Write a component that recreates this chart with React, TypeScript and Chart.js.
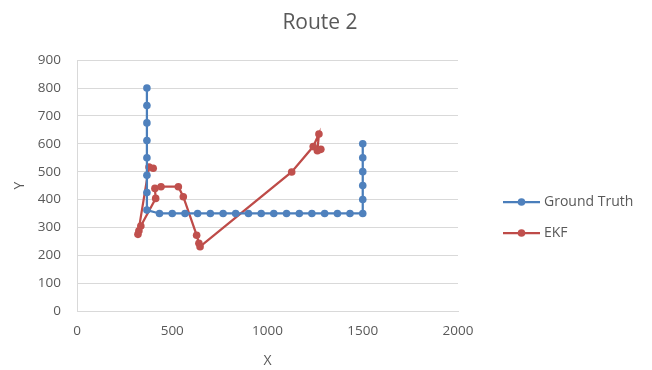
import React, { useEffect, useRef } from "react";
import { Chart, registerables } from "chart.js";

Chart.register(...registerables);

const chartTitle = "Route 2";
const xTitle = "X";
const yTitle = "Y";

const gtLabel = "Ground Truth";
const gtX = [
  367, 367, 367, 367, 367, 367, 367, 367,
  433, 500, 567, 633, 700, 767, 833, 900, 967, 1033, 1100, 1167, 1233, 1300, 1367, 1433, 1500,
  1500, 1500, 1500, 1500, 1500,
];
const gtY = [
  800, 737, 675, 612, 550, 487, 425, 362,
  350, 350, 350, 350, 350, 350, 350, 350, 350, 350, 350, 350, 350, 350, 350, 350, 350,
  400, 450, 500, 550, 600,
];

const ekfLabel = "EKF";
const ekfX = [400, 378, 320, 325, 335, 413, 409, 441, 532, 558, 628, 640, 646, 1127, 1240, 1270, 1262, 1280];
const ekfY = [512, 517, 275, 288, 305, 404, 440, 446, 446, 410, 272, 243, 231, 499, 590, 635, 575, 580];

const xMin = 0;
const xMax = 2000;
const xStep = 500;
const yMin = 0;
const yMax = 900;
const yStep = 100;

const BLUE = "#4A7EBB";
const RED = "#BE4B48";
const TEXT = "#595959";
const GRID = "#D9D9D9";
const FONT = "'Open Sans', 'Noto Sans', sans-serif";

const toPoints = (xs: number[], ys: number[]) => xs.map((x, i) => ({ x, y: ys[i] }));

const legendPlugin = {
  id: "excelLegend",
  afterDraw(chart: any) {
    const ctx = chart.ctx;
    const ds = chart.data.datasets;
    const x0 = 503;
    const x1 = 540;
    const ys = [202, 233];
    ctx.save();
    ds.forEach((d: any, i: number) => {
      const y = ys[i];
      ctx.strokeStyle = d.borderColor;
      ctx.lineWidth = 2.25;
      ctx.beginPath();
      ctx.moveTo(x0, y);
      ctx.lineTo(x1, y);
      ctx.stroke();
      ctx.fillStyle = d.pointBackgroundColor;
      ctx.beginPath();
      ctx.arc((x0 + x1) / 2, y, 3.8, 0, Math.PI * 2);
      ctx.fill();
      ctx.fillStyle = TEXT;
      ctx.font = `14px ${FONT}`;
      ctx.textBaseline = "middle";
      ctx.textAlign = "left";
      ctx.fillText(d.label, x1 + 4, y);
    });
    ctx.restore();
  },
};

export default function App() {
  const ref = useRef<HTMLCanvasElement | null>(null);

  useEffect(() => {
    document.body.style.margin = "0";
    const canvas = ref.current;
    if (!canvas) return;
    const chart = new Chart(canvas, {
      type: "scatter",
      data: {
        datasets: [
          {
            label: gtLabel,
            data: toPoints(gtX, gtY),
            showLine: true,
            borderColor: BLUE,
            backgroundColor: BLUE,
            pointBackgroundColor: "#4F81BD",
            pointBorderColor: "#4F81BD",
            borderWidth: 2.25,
            pointRadius: 3.8,
            pointBorderWidth: 0,
          },
          {
            label: ekfLabel,
            data: toPoints(ekfX, ekfY),
            showLine: true,
            borderColor: RED,
            backgroundColor: RED,
            pointBackgroundColor: "#C0504D",
            pointBorderColor: "#C0504D",
            borderWidth: 2.25,
            pointRadius: 3.8,
            pointBorderWidth: 0,
          },
        ],
      },
      options: {
        responsive: false,
        animation: false,
        devicePixelRatio: 1,
        layout: { padding: { left: 0, right: 12, top: 0, bottom: 0 } },
        plugins: {
          legend: { display: false },
          tooltip: { enabled: false },
          title: {
            display: true,
            text: chartTitle,
            color: TEXT,
            font: { family: FONT, size: 21, weight: "normal" },
            padding: { top: 10, bottom: 25 },
          },
        },
        scales: {
          x: {
            type: "linear",
            min: xMin,
            max: xMax,
            ticks: {
              stepSize: xStep,
              color: TEXT,
              font: { family: FONT, size: 13.5 },
              padding: 12,
              maxRotation: 0,
              callback: (v: any) => String(v),
            },
            grid: { display: false, drawTicks: false },
            border: { display: true, color: GRID, width: 1 },
            title: {
              display: true,
              text: xTitle,
              color: TEXT,
              font: { family: FONT, size: 14 },
              padding: { top: 0, bottom: 1 },
            },
            afterFit: (s: any) => {
              s.height = 59;
            },
          },
          y: {
            type: "linear",
            min: yMin,
            max: yMax,
            ticks: {
              stepSize: yStep,
              color: TEXT,
              font: { family: FONT, size: 13.5 },
              padding: 16,
              callback: (v: any) => String(v),
            },
            grid: { color: GRID, lineWidth: 1, drawTicks: false },
            border: { display: true, color: GRID, width: 1 },
            title: {
              display: true,
              text: yTitle,
              color: TEXT,
              font: { family: FONT, size: 14 },
              padding: { top: 12, bottom: 0 },
            },
            afterFit: (s: any) => {
              s.width = 77;
            },
          },
          yRightSpace: {
            type: "linear",
            position: "right",
            display: true,
            min: yMin,
            max: yMax,
            ticks: { display: false },
            grid: { display: false, drawTicks: false },
            border: { display: false },
            afterFit: (s: any) => {
              s.width = 182;
            },
          },
        },
      },
      plugins: [legendPlugin],
    });
    return () => chart.destroy();
  }, []);

  return (
    <div style={{ position: "absolute", left: 0, top: 0, width: 652, height: 370, background: "#fff" }}>
      <canvas ref={ref} width={652} height={370} style={{ display: "block" }} />
    </div>
  );
}
